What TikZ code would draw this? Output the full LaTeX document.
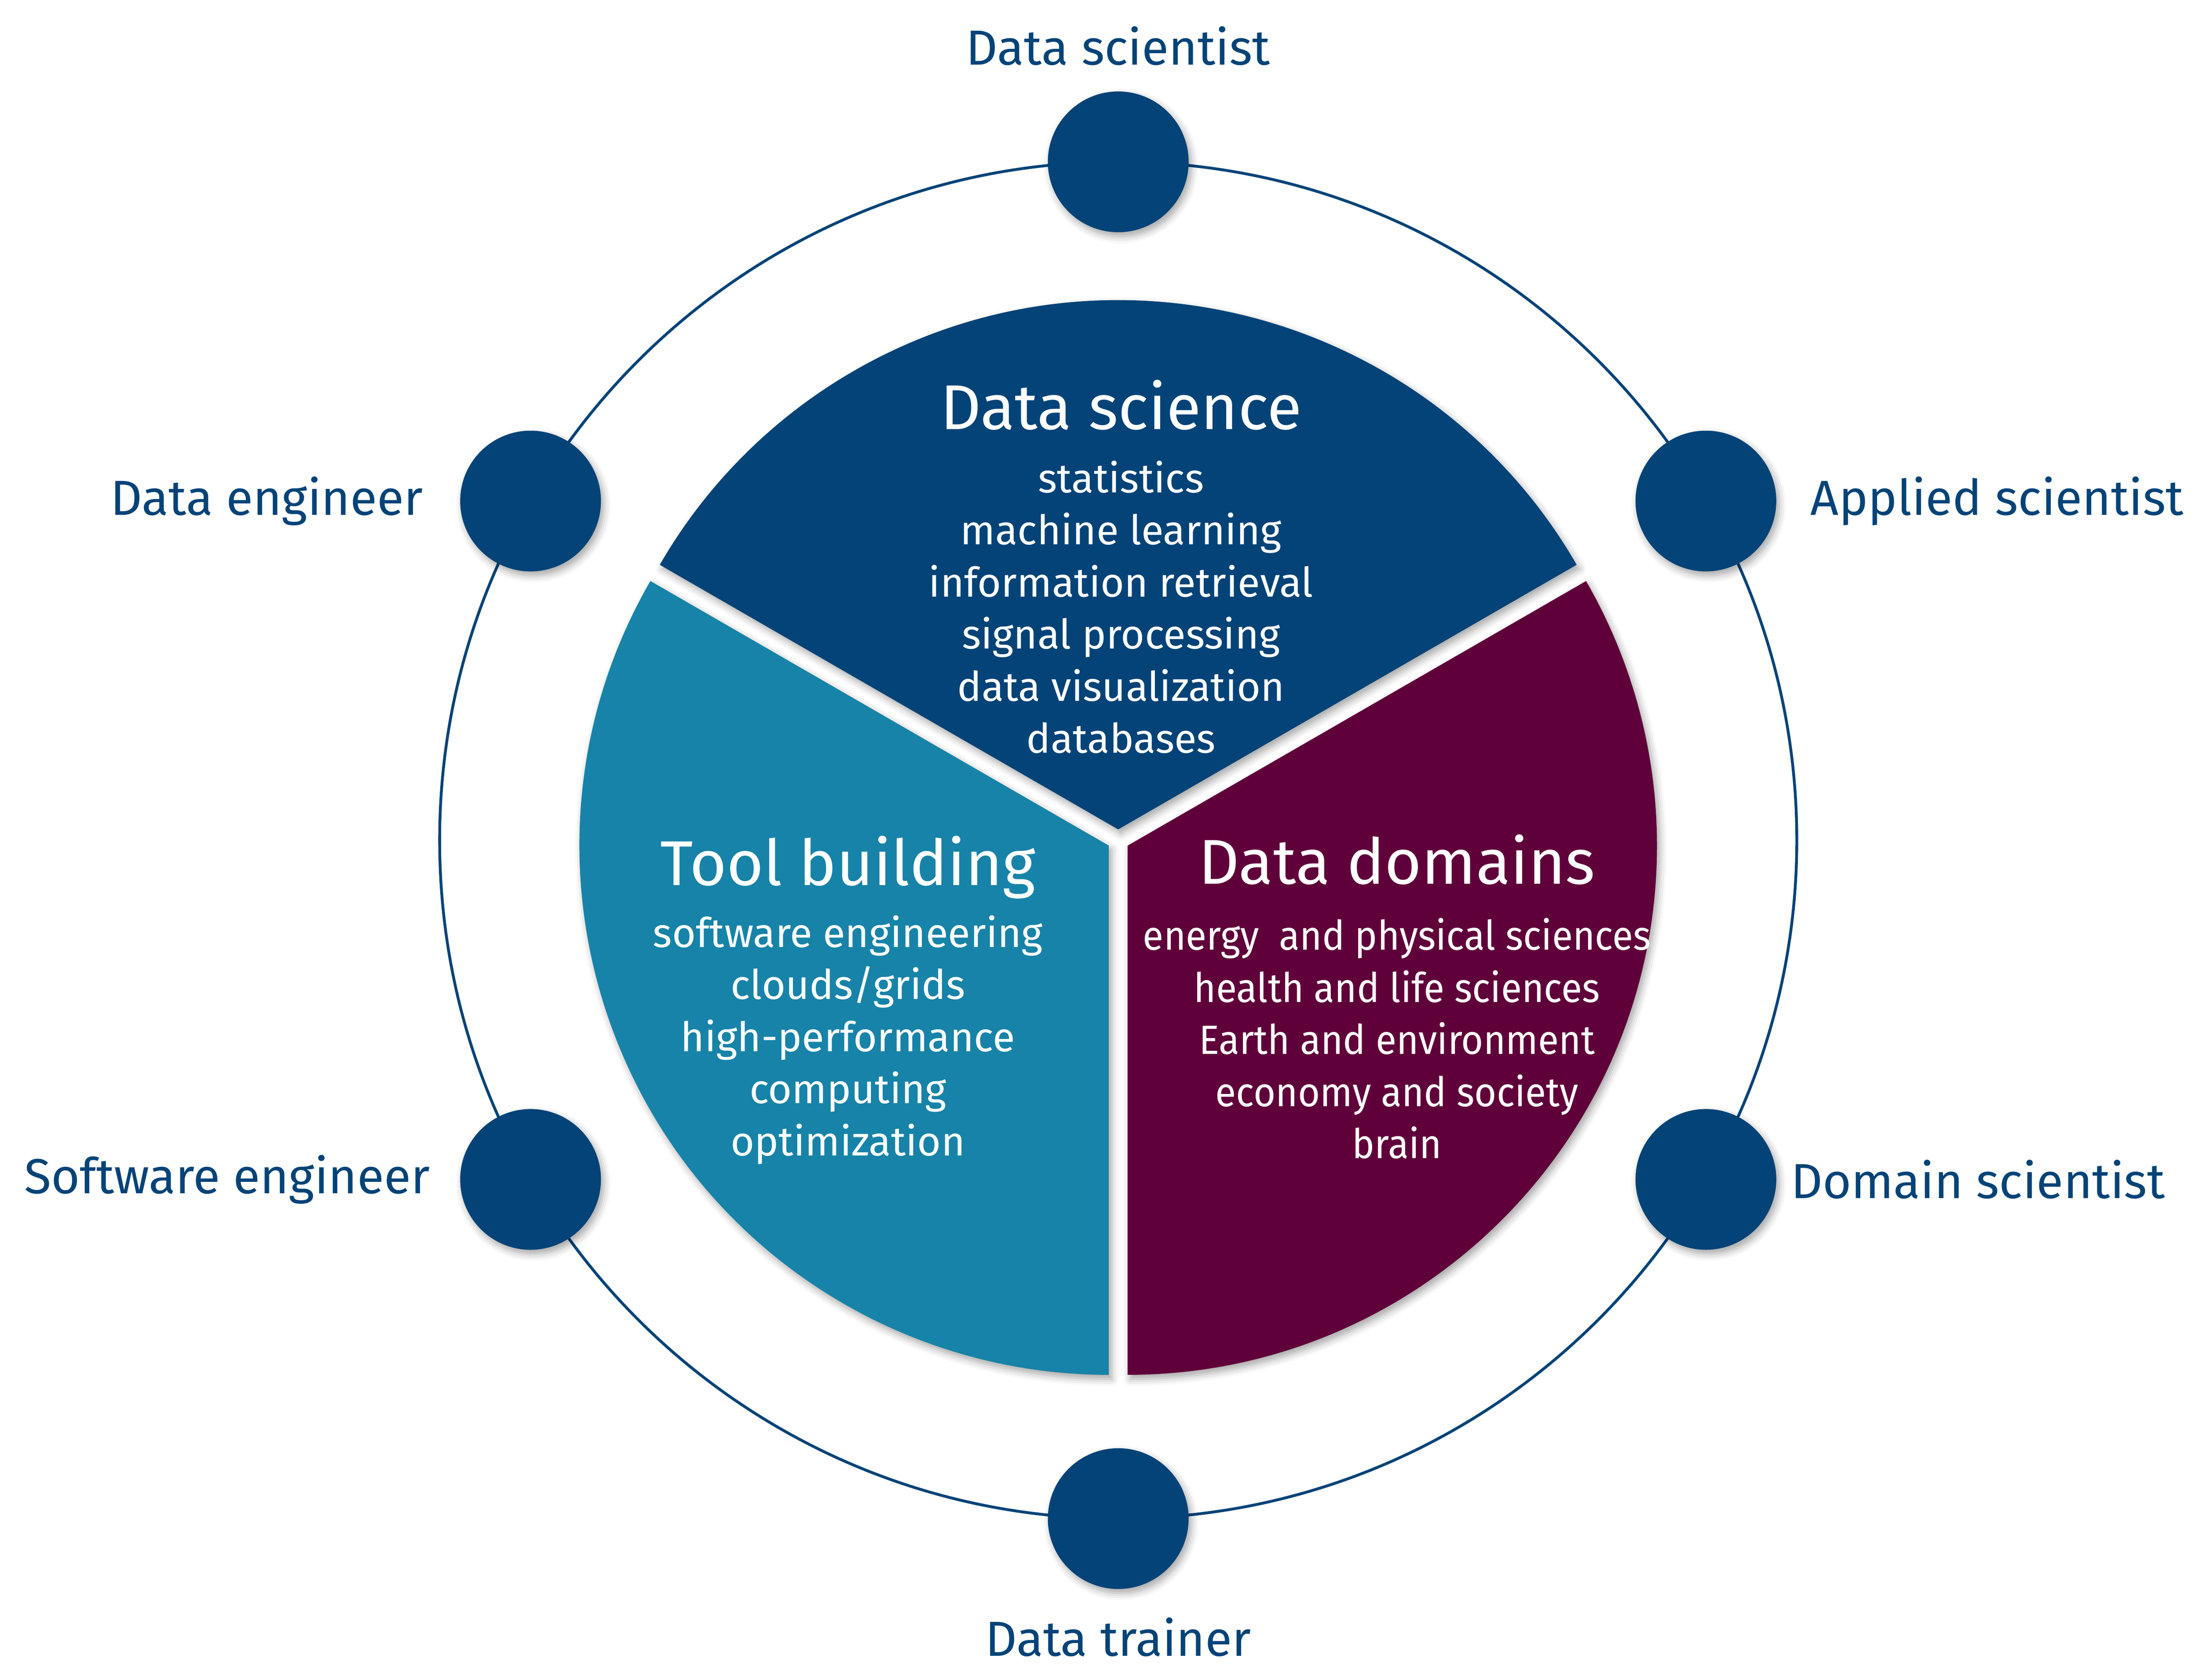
\documentclass[tikz,border=0pt]{standalone}
\usepackage{fontspec}
\setmainfont{Fira Sans}
\usetikzlibrary{positioning, shadows.blur}
\definecolor{dsblue}{RGB}{3,67,120}
\definecolor{tealblue}{RGB}{23,131,168}
\definecolor{domainred}{RGB}{96,0,58}
\begin{document}
\begin{tikzpicture}[x=1pt, y=1pt,
    softshadow/.style={blur shadow={shadow xshift=2pt, shadow yshift=-3pt, shadow blur radius=5pt, shadow opacity=35}},
    role/.style={circle, fill=dsblue, minimum size=100pt, inner sep=0pt, softshadow},
    rolename/.style={text=dsblue, font=\fontsize{35}{40}\selectfont, inner sep=0pt},
    fieldname/.style={text=white, font=\fontsize{45}{54}\selectfont, inner sep=0pt, anchor=base},
    topics/.style={text=white, font=\fontsize{29}{37}\selectfont, align=center, inner sep=0pt, anchor=base}]
    \useasboundingbox (-794.3,-596.5) rectangle (767.7,597);
    % ring of roles
    \draw[dsblue, line width=2pt] (0,0) circle[radius=482];
    \node[role] (scientist) at (90:482) {};
    \node[role] (applied) at (30:482) {};
    \node[role] (engineer) at (150:482) {};
    \node[role] (software) at (210:482) {};
    \node[role] (domain) at (330:482) {};
    \node[role] (trainer) at (270:482) {};
    \node[rolename, above=18pt of scientist] (scientistname) {Data scientist};
    \node[rolename, left=26pt of engineer] (engineername) {Data engineer};
    \node[rolename, right=24pt of applied] (appliedname) {Applied scientist};
    \node[rolename, left=21pt of software] (softwarename) {Software engineer};
    \node[rolename, right=10pt of domain] (domainname) {Domain scientist};
    \node[rolename, below=20pt of trainer] (trainername) {Data trainer};
    % the three fields
    \fill[dsblue, softshadow] (0,7.7) -- ++(30:376) arc[start angle=30, end angle=150, radius=376] -- cycle;
    \fill[tealblue, softshadow] (-6.67,-3.85) -- ++(150:376) arc[start angle=150, end angle=270, radius=376] -- cycle;
    \fill[domainred, softshadow] (6.67,-3.85) -- ++(270:376) arc[start angle=270, end angle=390, radius=376] -- cycle;
    \node[fieldname] (science) at (2,292) {Data science};
    % base of a list is the base of its last line
    \node[topics] (sciencetopics) at (2,62) {statistics\\machine learning\\information retrieval\\signal processing\\data visualization\\databases};
    \node[fieldname] (tools) at (-192,-32) {Tool building};
    \node[topics] (tooltopics) at (-192,-224) {software engineering\\clouds/grids\\high-performance\\computing\\optimization};
    \node[fieldname] (domains) at (198,-31) {Data domains};
    \node[topics, xscale=0.93] (domaintopics) at (198,-226) {energy\ \ and physical sciences\\health and life sciences\\Earth and environment\\economy and society\\brain};
\end{tikzpicture}
\end{document}
